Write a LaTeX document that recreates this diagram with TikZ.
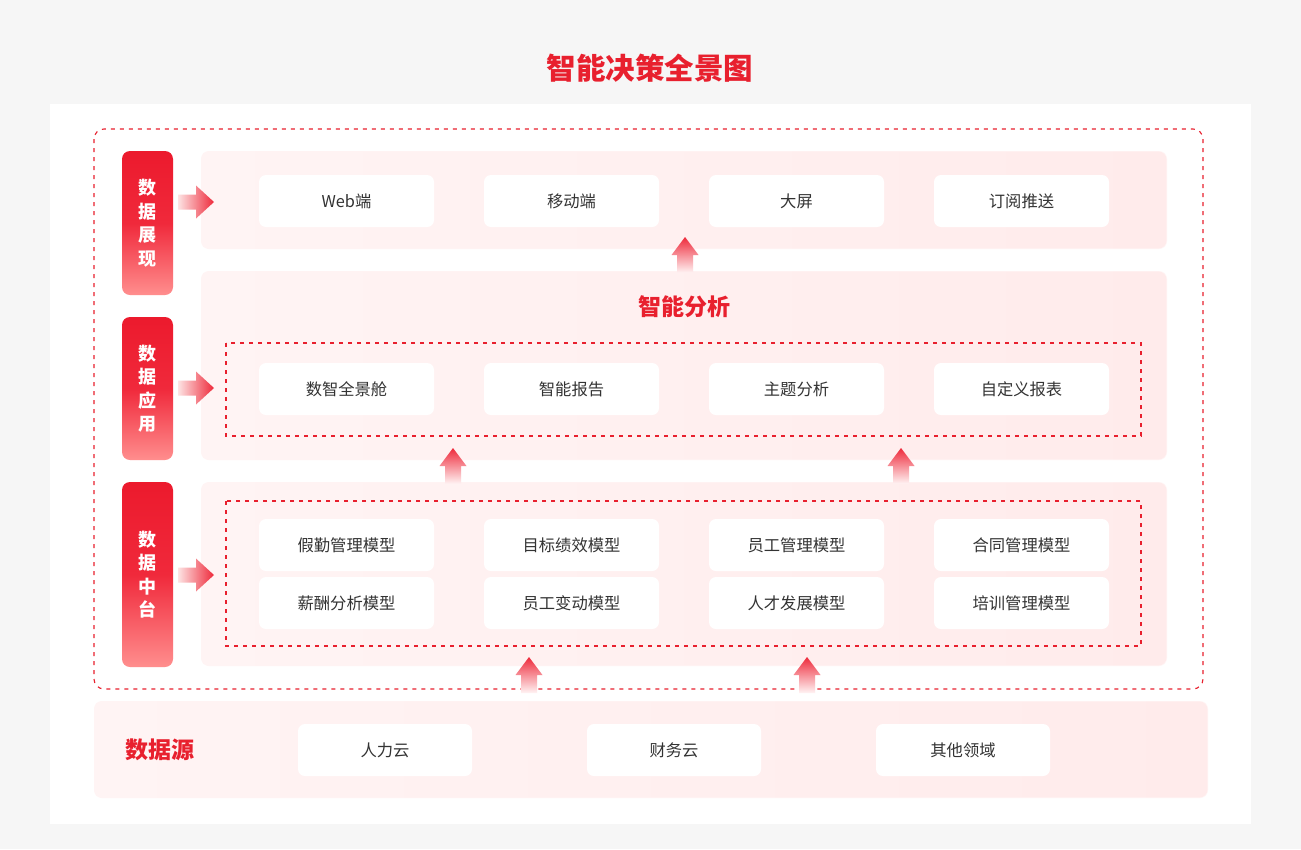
\documentclass[tikz,border=0pt]{standalone}
\usepackage{fontspec}
\setmainfont{Noto Sans CJK SC}
\definecolor{bgGrey}{HTML}{F6F6F6}
\definecolor{redA}{HTML}{EC1A2D}
\definecolor{redM}{HTML}{F0293B}
\definecolor{redB}{HTML}{FF8E8E}
\definecolor{pinkA}{HTML}{FFF4F4}
\definecolor{pinkB}{HTML}{FFEBEB}
\definecolor{arrLight}{HTML}{FDE3E3}
\definecolor{arrRed}{HTML}{EE2A3B}
\definecolor{txt}{HTML}{333333}
\definecolor{dashRed}{HTML}{E8202E}
\begin{document}
\begin{tikzpicture}[x=1pt,y=-1pt,
  box/.style={fill=white, rounded corners=7pt, minimum width=175pt, minimum height=52pt, inner sep=0pt, text=txt, font=\fontsize{16.3}{19}\selectfont},
  side/.style={rounded corners=8pt, minimum width=51pt, inner sep=0pt, text=white, font=\bfseries\fontsize{18}{23.5}\selectfont, align=center, top color=redA, bottom color=redB, middle color=redM},
  panelbase/.style={rounded corners=8pt, fill=pinkA},
  panel/.style={rounded corners=8pt, left color=pinkA, right color=pinkB, draw=none},
  dashbox/.style={draw=dashRed, line width=1.1pt, dash pattern=on 4pt off 5pt},
  heading/.style={text=dashRed, font=\bfseries\fontsize{23}{26}\selectfont},
  rarrow/.pic={\shade[left color=arrLight, right color=arrRed] (0,-7.5) -- (18,-7.5) -- (18,-16.5) -- (36,0) -- (18,16.5) -- (18,7.5) -- (0,7.5) -- cycle;},
  uarrow/.pic={\shade[top color=arrRed, bottom color=pinkA] (0,0) -- (13.5,18) -- (8,18) -- (8,36) -- (-8,36) -- (-8,18) -- (-13.5,18) -- cycle;}
]
\useasboundingbox (0,0) rectangle (1301,849);
\fill[bgGrey] (0,0) rectangle (1301,849);
\fill[white] (50,104) rectangle (1251,824);

\node[text=dashRed, font=\bfseries\fontsize{29.5}{33}\selectfont] (title) at (650,68) {智能决策全景图};

% outer dashed frame
\draw[dashbox, rounded corners=10pt] (94,129) rectangle (1203,689);

% panels
\foreach \a/\b/\c/\d in {201/151/1167/249, 201/271/1167/460, 201/482/1167/666, 94/701/1208/798}{
  \fill[panelbase] (\a,\b) rectangle (\c,\d);
  \shade[panel] (\a+0.6,\b+0.6) rectangle (\c-0.6,\d-0.6);
}

% inner dashed boxes
\draw[dashbox] (226,343) rectangle (1141,436);
\draw[dashbox] (226,501) rectangle (1141,646);

% side labels
\node[side, minimum height=144pt] (s1) at (147.5,223) {数\\据\\展\\现};
\node[side, minimum height=143pt] (s2) at (147.5,388.5) {数\\据\\应\\用};
\node[side, minimum height=185pt] (s3) at (147.5,574.5) {数\\据\\中\\台};

% right arrows
\pic at (178,202) {rarrow};
\pic at (178,388) {rarrow};
\pic at (178,575) {rarrow};

% row 1
\node[box] (web) at (346.5,201) {Web端};
\node[box] (mob) at (571.5,201) {移动端};
\node[box] (big) at (796.5,201) {大屏};
\node[box] (sub) at (1021.5,201) {订阅推送};

% row 2
\node[heading] (ai) at (684,307) {智能分析};
\node[box] (b21) at (346.5,389) {数智全景舱};
\node[box] (b22) at (571.5,389) {智能报告};
\node[box] (b23) at (796.5,389) {主题分析};
\node[box] (b24) at (1021.5,389) {自定义报表};

% row 3
\node[box] (m1) at (346.5,545) {假勤管理模型};
\node[box] (m2) at (571.5,545) {目标绩效模型};
\node[box] (m3) at (796.5,545) {员工管理模型};
\node[box] (m4) at (1021.5,545) {合同管理模型};
\node[box] (m5) at (346.5,603) {薪酬分析模型};
\node[box] (m6) at (571.5,603) {员工变动模型};
\node[box] (m7) at (796.5,603) {人才发展模型};
\node[box] (m8) at (1021.5,603) {培训管理模型};

% data source
\node[heading, anchor=west] (src) at (122,750) {数据源};
\node[box, minimum width=174pt] (d1) at (385,750) {人力云};
\node[box, minimum width=174pt] (d2) at (674,750) {财务云};
\node[box, minimum width=174pt] (d3) at (963,750) {其他领域};

% up arrows
\pic at (685,237) {uarrow};
\pic at (453,448) {uarrow};
\pic at (901,448) {uarrow};
\pic at (529,657) {uarrow};
\pic at (807,657) {uarrow};
\end{tikzpicture}
\end{document}
